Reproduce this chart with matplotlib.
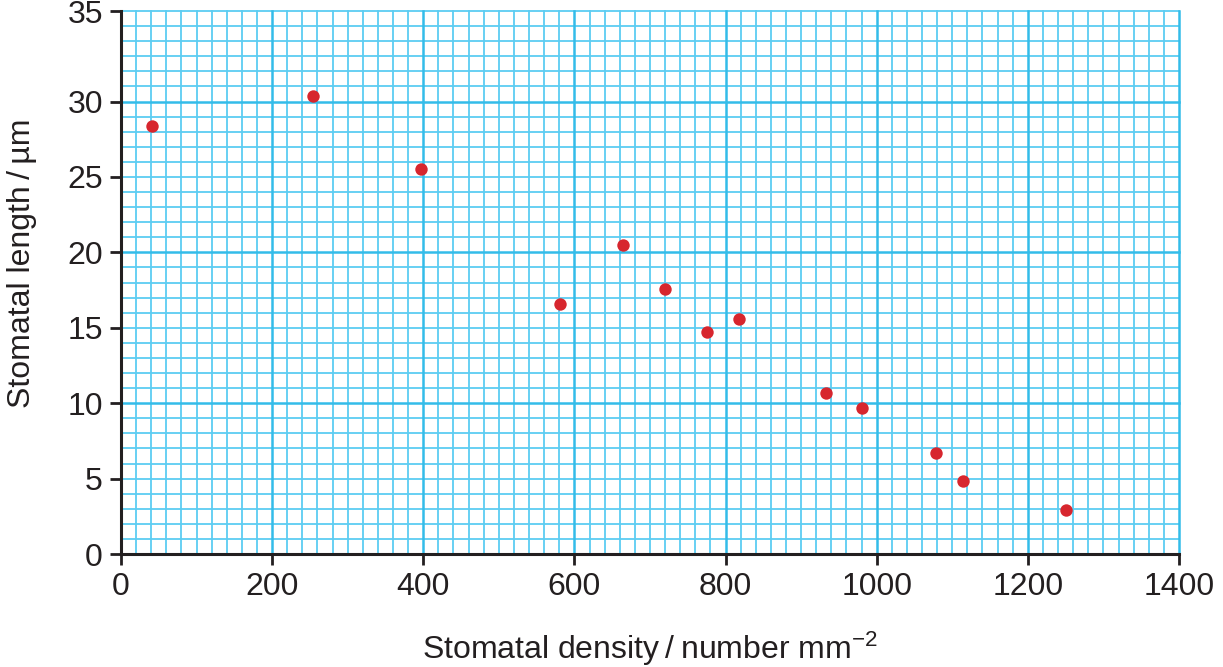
import matplotlib.pyplot as plt
import numpy as np

plt.rcParams["font.family"] = ["Liberation Sans", "DejaVu Sans"]
plt.rcParams["mathtext.default"] = "regular"

density = [41, 254, 397, 581, 664, 720, 775, 818, 933, 980, 1079, 1114, 1250]
length = [28.4, 30.35, 25.5, 16.6, 20.5, 17.6, 14.7, 15.6, 10.7, 9.7, 6.7, 4.85, 2.9]

# Achsenbeschriftung
x_ticks = [0, 200, 400, 600, 800, 1000, 1200, 1400]
y_ticks = [0, 5, 10, 15, 20, 25, 30, 36]
y_tick_labels = ["0", "5", "10", "15", "20", "25", "30", "35"]

dark = "#231f20"
grid_minor = "#5ccdf2"
grid_major = "#33bce9"

fig = plt.figure(figsize=(12.23, 6.67), dpi=100)
ax = fig.add_axes([0.0989, 0.1694, 0.8651, 0.8141])
ax.set_xlim(0, 1400)
ax.set_ylim(0, 36)

# Millimeterpapier
for xv in np.arange(0, 1401, 20):
    if xv % 200 == 0 or xv == 1400:
        ax.axvline(xv, color=grid_major, linewidth=1.8, zorder=1, clip_on=False)
    else:
        ax.axvline(xv, color=grid_minor, linewidth=1.3, zorder=0.5, clip_on=False)
for yv in np.arange(0, 37, 1):
    if yv % 10 == 0:
        ax.axhline(yv, color=grid_major, linewidth=1.8, zorder=1, clip_on=False)
    else:
        ax.axhline(yv, color=grid_minor, linewidth=1.3, zorder=0.5, clip_on=False)

ax.scatter(density, length, s=80, color="#d7262e", zorder=5, linewidths=0)

ax.set_xticks(x_ticks)
ax.set_yticks(y_ticks)
ax.set_yticklabels(y_tick_labels)
ax.tick_params(axis="both", direction="out", length=8, width=2, color=dark,
               labelsize=23, labelcolor=dark, pad=5)

for side in ["top", "right"]:
    ax.spines[side].set_visible(False)
for side in ["left", "bottom"]:
    ax.spines[side].set_color(dark)
    ax.spines[side].set_linewidth(2.2)
    ax.spines[side].set_zorder(4)

ax.set_xlabel("Stomatal density\u2009/\u2009number mm$^{\u22122}$", fontsize=23, color=dark)
ax.set_ylabel("Stomatal length\u2009/\u2009\u00b5m", fontsize=23, color=dark)
ax.xaxis.set_label_coords(0.5, -0.14)
ax.yaxis.set_label_coords(-0.079, 0.535)

fig.savefig("out.png", dpi=100)
